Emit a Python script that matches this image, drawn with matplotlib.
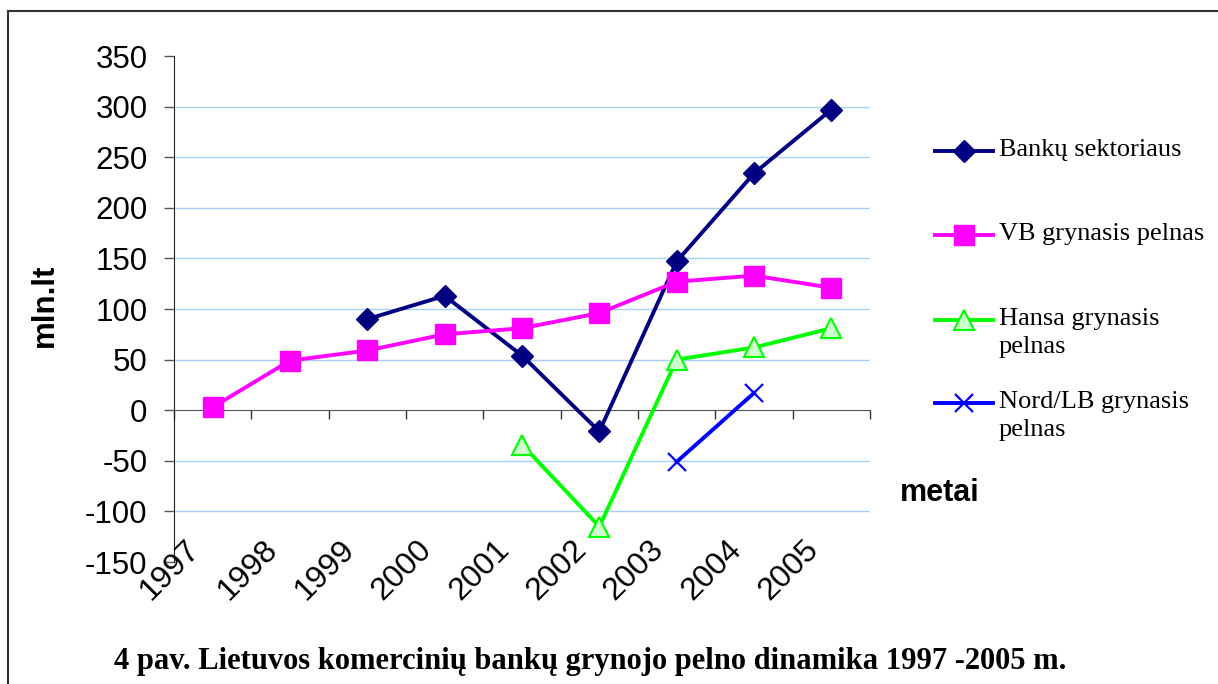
import matplotlib
matplotlib.use("Agg")
import matplotlib.pyplot as plt
import matplotlib.transforms as mtransforms
import numpy as np

# data
years = ["1997", "1998", "1999", "2000", "2001", "2002", "2003", "2004", "2005"]
bank_sector = [None, None, 90, 113, 54, -21, 147, 234, 297]
vb_profit = [3, 49, 59, 75, 81, 96, 127, 133, 121]
hansa_profit = [None, None, None, None, -34, -115, 50, 62, 81]
nordlb_profit = [None, None, None, None, None, None, -51, 17, None]

series_labels = ["Bankų sektoriaus", "VB grynasis pelnas",
                 "Hansa grynasis\npelnas", "Nord/LB grynasis\npelnas"]
y_ticks = [-150, -100, -50, 0, 50, 100, 150, 200, 250, 300, 350]

styles = [
    dict(color="#000080", lw=2.8, marker="D", ms=11.5, mfc="#000080", mec="#000080"),
    dict(color="#FF00FF", lw=2.8, marker="s", ms=14.5, mfc="#FF00FF", mec="#FF00FF"),
    dict(color="#00FF00", lw=2.8, marker="^", ms=15, mfc="#CCFFCC", mec="#00FF00", mew=1.5),
    dict(color="#0000FF", lw=2.8, marker="x", ms=12.5, mec="#0000FF", mew=1.6),
]

W, H = 1218, 684
fig = plt.figure(figsize=(W / 100, H / 100), dpi=100)
ax = fig.add_axes([174 / W, 1 - 562 / H, (870 - 174) / W, (562 - 56) / H])

x = np.arange(len(years))
all_series = [bank_sector, vb_profit, hansa_profit, nordlb_profit]
for vals, st in zip(all_series, styles):
    xs = [i for i, v in zip(x, vals) if v is not None]
    ys = [v for v in vals if v is not None]
    ax.plot(xs, ys, zorder=3, **st)

ax.set_xlim(-0.5, len(years) - 0.5)
ax.set_ylim(-150, 350)

# light blue gridlines
for g in y_ticks:
    if g in (-150, 0, 350):
        continue
    ax.axhline(g, color="#A6D0F5", lw=1.0, zorder=1)

ax.spines["top"].set_visible(False)
ax.spines["right"].set_visible(False)
ax.spines["bottom"].set_position(("data", 0))
ax.spines["bottom"].set_color("#555555")
ax.spines["left"].set_color("#222222")

ax.set_yticks(y_ticks)
ax.set_yticklabels([str(t) for t in y_ticks], fontsize=22.5, family="Liberation Sans")
ax.tick_params(axis="y", direction="out", length=7, width=1, color="#555555", pad=12)
ax.set_xticks(np.arange(-0.5, len(years), 1.0))
ax.set_xticklabels([])
ax.tick_params(axis="x", direction="out", length=6.5, width=1, color="#333333")

# rotated year labels, sitting low like in the original
off = mtransforms.offset_copy(ax.transData, fig=fig, x=-20, y=20, units="points")
for i, yr in enumerate(years):
    ax.text(i, -150, yr, transform=off, rotation=45, rotation_mode="anchor",
            ha="right", va="top", fontsize=23, family="Liberation Sans", zorder=4)

fig.text(45 / W, 1 - 305 / H, "mln.lt", rotation=90, ha="center", va="center",
         fontsize=22.5, fontweight="bold", family="Liberation Sans")
fig.text(940 / W, 1 - 493 / H, "metai", ha="center", va="center",
         fontsize=22, fontweight="bold", family="Liberation Sans")

# legend drawn by hand, in pixel coordinates
lax = fig.add_axes([0, 0, 1, 1], facecolor="none")
lax.set_xlim(0, W)
lax.set_ylim(H, 0)
lax.axis("off")
legend_y = [151, 235, 320, 403]
for ly, lab, st in zip(legend_y, series_labels, styles):
    lax.plot([935, 993], [ly, ly], color=st["color"], lw=st["lw"])
    mst = {k: v for k, v in st.items() if k not in ("color", "lw")}
    lax.plot([964], [ly], ls="none", **mst)
    lax.text(999, ly - 12, lab, ha="left", va="top", fontsize=19,
             family="Liberation Serif", linespacing=1.35)

# frame on the top and left of the picture
lax.plot([8, W], [11, 11], color="#333333", lw=1.5)
lax.plot([8, 8], [11, H], color="#333333", lw=1.5)

fig.text(590 / W, 1 - 662 / H,
         "4 pav. Lietuvos komercinių bankų grynojo pelno dinamika 1997 -2005 m.",
         ha="center", va="center", fontsize=22, fontweight="bold",
         family="Liberation Serif")

fig.savefig("out.png", dpi=100)
